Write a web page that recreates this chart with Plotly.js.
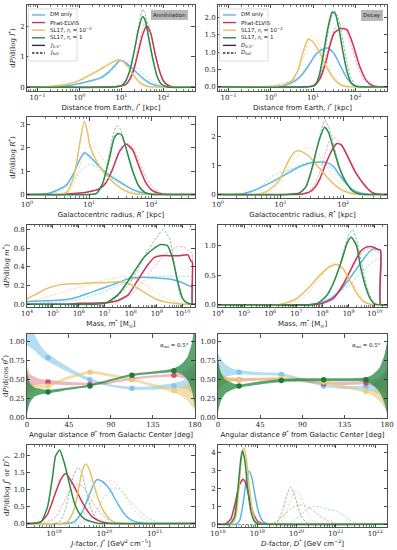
<!DOCTYPE html>
<html><head><meta charset="utf-8">
<script src="https://cdn.plot.ly/plotly-3.0.1.min.js"></script>
<style>html,body{margin:0;padding:0;background:#fff}#chart{width:397px;height:550px}</style>
</head><body><div id="chart"></div>
<script>
// ---------- DATA: [log10(x), dP/dlog x] pairs ----------
// Row 1 left: annihilation, distance from Earth (kpc)
const annDist_dmFull = [[-1.25,0],[-0.6,0.005],[-0.2,0.05],[0,0.1],[0.5,0.28],[0.75,0.5],[0.9,0.75],[1.05,0.9],[1.2,0.82],[1.4,0.6],[1.6,0.33],[1.8,0.12],[2.0,0.03],[2.2,0],[2.75,0]];
const annDist_peFull = [[-1.25,0],[0.6,0],[0.9,0.03],[1.1,0.1],[1.2,0.3],[1.3,0.7],[1.4,1.3],[1.5,1.9],[1.58,2.2],[1.68,1.9],[1.8,1.15],[1.9,0.6],[2.0,0.25],[2.1,0.08],[2.25,0],[2.75,0]];
const annDist_sl2Full = [[-1.25,0],[-0.8,0.01],[-0.3,0.08],[0,0.2],[0.25,0.36],[0.5,0.55],[0.75,0.77],[0.92,0.9],[1.05,0.85],[1.2,0.62],[1.35,0.35],[1.5,0.13],[1.7,0.02],[1.9,0],[2.75,0]];
const annDist_sl1Full = [[-1.25,0],[0.8,0],[1.0,0.04],[1.1,0.18],[1.2,0.5],[1.3,1.15],[1.4,1.95],[1.5,2.55],[1.56,2.45],[1.65,1.7],[1.75,0.9],[1.85,0.35],[1.95,0.1],[2.1,0],[2.75,0]];
const annDist_dm05 = [[-1.25,0],[-0.6,0.005],[-0.2,0.06],[0,0.12],[0.25,0.2],[0.5,0.3],[0.7,0.5],[0.85,0.72],[0.97,0.88],[1.1,0.8],[1.3,0.56],[1.5,0.3],[1.7,0.11],[1.9,0.03],[2.1,0],[2.75,0]];
const annDist_pe05 = [[-1.25,0],[0.6,0],[0.9,0.02],[1.1,0.08],[1.2,0.25],[1.3,0.6],[1.4,1.15],[1.5,1.7],[1.6,2.02],[1.7,1.75],[1.8,1.1],[1.9,0.55],[2.0,0.2],[2.1,0.06],[2.25,0],[2.75,0]];
const annDist_sl205 = [[-1.25,0],[-0.8,0.01],[-0.3,0.09],[0,0.22],[0.25,0.4],[0.5,0.59],[0.73,0.78],[0.9,0.89],[1.0,0.87],[1.17,0.64],[1.28,0.4],[1.44,0.14],[1.6,0.03],[1.8,0],[2.75,0]];
const annDist_sl105 = [[-1.25,0],[0.8,0],[1.0,0.05],[1.1,0.2],[1.2,0.55],[1.3,1.15],[1.4,1.85],[1.5,2.32],[1.56,2.22],[1.65,1.6],[1.75,0.9],[1.85,0.35],[1.95,0.1],[2.1,0],[2.75,0]];
// Row 1 right: decay, distance from Earth
const decDist_dmFull = [[-1.25,0],[-0.3,0],[0,0.03],[0.3,0.1],[0.5,0.18],[0.7,0.35],[0.9,0.65],[1.1,0.95],[1.3,1.1],[1.45,1.02],[1.6,0.72],[1.75,0.35],[1.9,0.1],[2.05,0.02],[2.2,0],[2.75,0]];
const decDist_peFull = [[-1.25,0],[0.8,0],[1.0,0.04],[1.15,0.25],[1.3,0.8],[1.45,1.5],[1.6,1.82],[1.75,1.7],[1.9,1.2],[2.05,0.6],[2.2,0.2],[2.35,0.04],[2.5,0],[2.75,0]];
const decDist_sl2Full = [[-1.25,0],[0,0],[0.3,0.05],[0.5,0.15],[0.65,0.45],[0.8,0.95],[0.95,1.48],[1.05,1.42],[1.2,1.05],[1.35,0.62],[1.5,0.28],[1.65,0.08],[1.8,0.01],[1.95,0],[2.75,0]];
const decDist_sl1Full = [[-1.25,0],[0.95,0],[1.1,0.08],[1.2,0.5],[1.3,1.2],[1.4,1.85],[1.5,2.2],[1.58,2.05],[1.68,1.5],[1.8,0.7],[1.9,0.25],[2.0,0.05],[2.1,0],[2.75,0]];
const decDist_dm05 = [[-1.25,0],[0,0],[0.3,0.03],[0.5,0.12],[0.7,0.3],[0.9,0.62],[1.05,0.92],[1.2,1.07],[1.35,1.12],[1.5,0.95],[1.65,0.6],[1.8,0.25],[1.95,0.06],[2.1,0],[2.75,0]];
const decDist_pe05 = [[-1.25,0],[0.8,0],[1.0,0.03],[1.15,0.2],[1.3,0.7],[1.4,1.2],[1.5,1.55],[1.65,1.68],[1.8,1.65],[1.95,1.2],[2.1,0.6],[2.25,0.2],[2.4,0.04],[2.55,0],[2.75,0]];
const decDist_sl205 = [[-1.25,0],[0,0],[0.3,0.05],[0.5,0.18],[0.65,0.5],[0.75,0.95],[0.88,1.37],[1.0,1.3],[1.15,1.0],[1.3,0.62],[1.45,0.3],[1.6,0.1],[1.75,0.02],[1.9,0],[2.75,0]];
const decDist_sl105 = [[-1.25,0],[0.9,0],[1.05,0.05],[1.15,0.35],[1.25,1.0],[1.35,1.7],[1.45,2.15],[1.52,2.12],[1.6,1.75],[1.7,1.05],[1.8,0.45],[1.9,0.12],[2.0,0.02],[2.1,0],[2.75,0]];
// Row 2 left: annihilation, galactocentric radius
const annRad_dmFull = [[0,0],[0.3,0.02],[0.5,0.12],[0.65,0.35],[0.8,0.8],[0.9,1.1],[1.0,1.28],[1.1,1.2],[1.2,0.95],[1.35,0.7],[1.5,0.48],[1.65,0.28],[1.8,0.12],[1.95,0.04],[2.1,0.01],[2.3,0],[2.7,0]];
const annRad_peFull = [[0,0],[0.6,0],[0.9,0.08],[1.15,0.22],[1.28,0.55],[1.4,1.3],[1.5,1.95],[1.6,2.2],[1.72,1.95],[1.82,1.3],[1.92,0.7],[2.02,0.3],[2.15,0.08],[2.3,0],[2.7,0]];
const annRad_sl2Full = [[0,0],[0.55,0],[0.68,0.15],[0.78,0.6],[0.88,1.5],[0.95,1.95],[1.02,2.1],[1.1,1.95],[1.2,1.6],[1.32,1.1],[1.45,0.6],[1.6,0.22],[1.75,0.06],[1.9,0.01],[2.05,0],[2.7,0]];
const annRad_sl1Full = [[0,0],[1.0,0],[1.12,0.05],[1.22,0.5],[1.32,1.7],[1.39,2.6],[1.44,2.92],[1.5,2.8],[1.58,2.1],[1.68,1.1],[1.78,0.4],[1.88,0.1],[2.0,0.01],[2.1,0],[2.7,0]];
const annRad_dm05 = [[0,0],[0.2,0.01],[0.35,0.05],[0.5,0.2],[0.64,0.42],[0.75,0.9],[0.85,1.5],[0.92,1.78],[1.0,1.65],[1.06,1.48],[1.15,1.22],[1.27,0.92],[1.38,0.72],[1.48,0.56],[1.6,0.36],[1.7,0.21],[1.85,0.07],[2.0,0.01],[2.2,0],[2.7,0]];
const annRad_pe05 = [[0,0],[0.5,0],[0.64,0.02],[0.96,0.1],[1.17,0.25],[1.27,0.5],[1.38,1.1],[1.48,1.8],[1.59,2.15],[1.7,1.9],[1.8,1.2],[1.9,0.55],[2.0,0.2],[2.12,0.05],[2.25,0],[2.7,0]];
const annRad_sl205 = [[0,0],[0.5,0],[0.64,0.1],[0.72,0.5],[0.78,1.1],[0.85,2.2],[0.92,3.12],[0.97,2.7],[1.01,2.1],[1.12,1.4],[1.27,0.85],[1.43,0.42],[1.59,0.14],[1.7,0.04],[1.85,0],[2.7,0]];
const annRad_sl105 = [[0,0],[1.0,0],[1.12,0.05],[1.22,0.5],[1.33,1.6],[1.4,2.4],[1.46,2.6],[1.52,2.55],[1.59,2.0],[1.7,1.0],[1.8,0.35],[1.9,0.08],[2.0,0.01],[2.1,0],[2.7,0]];
// Row 2 right: decay, galactocentric radius
const decRad_dmFull = [[0,0],[0.5,0.05],[0.7,0.3],[0.85,0.6],[0.98,0.75],[1.1,0.8],[1.25,0.95],[1.4,1.08],[1.55,1.12],[1.7,1.05],[1.85,0.85],[1.95,0.6],[2.05,0.35],[2.15,0.15],[2.3,0.04],[2.45,0],[2.7,0]];
const decRad_peFull = [[0,0],[1.2,0],[1.4,0.05],[1.5,0.2],[1.6,0.6],[1.7,1.3],[1.78,1.85],[1.85,1.95],[1.95,1.75],[2.05,1.35],[2.2,0.7],[2.35,0.25],[2.48,0.05],[2.6,0],[2.7,0]];
const decRad_sl2Full = [[0,0],[0.7,0],[0.85,0.1],[1.0,0.45],[1.12,0.9],[1.25,1.3],[1.38,1.55],[1.48,1.6],[1.58,1.45],[1.7,1.1],[1.82,0.7],[1.95,0.35],[2.1,0.1],[2.25,0.02],[2.4,0],[2.7,0]];
const decRad_sl1Full = [[0,0],[1.1,0],[1.3,0.05],[1.42,0.3],[1.5,0.85],[1.58,1.6],[1.65,2.2],[1.71,2.55],[1.77,2.3],[1.85,1.65],[1.95,0.9],[2.05,0.4],[2.15,0.12],[2.28,0.02],[2.4,0],[2.7,0]];
const decRad_dm05 = [[0,0],[0.3,0.01],[0.4,0.03],[0.55,0.12],[0.66,0.22],[0.88,0.45],[1.09,0.7],[1.3,0.95],[1.52,1.1],[1.73,1.1],[1.85,0.95],[1.94,0.67],[2.05,0.38],[2.15,0.17],[2.26,0.06],[2.4,0.01],[2.55,0],[2.7,0]];
const decRad_pe05 = [[0,0],[1.2,0],[1.35,0.02],[1.46,0.08],[1.55,0.25],[1.62,0.5],[1.73,1.1],[1.84,1.6],[1.9,1.75],[1.97,1.7],[2.05,1.4],[2.2,0.75],[2.37,0.25],[2.47,0.06],[2.6,0],[2.7,0]];
const decRad_sl205 = [[0,0],[0.6,0],[0.77,0.1],[0.9,0.3],[0.98,0.5],[1.06,0.85],[1.14,1.2],[1.22,1.45],[1.3,1.5],[1.38,1.42],[1.46,1.3],[1.54,1.1],[1.62,0.9],[1.78,0.5],[1.94,0.2],[2.1,0.05],[2.25,0],[2.7,0]];
const decRad_sl105 = [[0,0],[1.1,0],[1.3,0.05],[1.4,0.25],[1.46,0.6],[1.52,1.05],[1.57,1.5],[1.63,1.95],[1.7,2.3],[1.76,2.15],[1.84,1.6],[1.94,0.9],[2.05,0.4],[2.15,0.12],[2.26,0.02],[2.4,0],[2.7,0]];
// Row 3 left: annihilation, subhalo mass (Msun)
const annMass_dmFull = [[4,0.01],[4.5,0.015],[5,0.02],[5.5,0.03],[6,0.05],[6.5,0.09],[7,0.14],[7.5,0.2],[8,0.26],[8.5,0.29],[9,0.3],[9.5,0.3],[10,0.3],[10.3,0.3],[10.37,0.3],[10.375,0],[10.47,0]];
const annMass_peFull = [[4,0],[6,0],[7,0.01],[7.5,0.03],[8,0.1],[8.5,0.25],[8.9,0.4],[9.2,0.5],[9.5,0.57],[9.8,0.62],[10.05,0.61],[10.3,0.56],[10.37,0.55],[10.375,0],[10.47,0]];
const annMass_sl2Full = [[4,0.02],[4.5,0.06],[5,0.1],[5.5,0.14],[6,0.18],[6.5,0.22],[7,0.26],[7.5,0.29],[7.8,0.3],[8.1,0.28],[8.5,0.22],[9,0.12],[9.5,0.04],[10,0.01],[10.47,0]];
const annMass_sl1Full = [[4,0],[6.8,0],[7.35,0.05],[7.8,0.17],[8.13,0.3],[8.6,0.55],[9.0,0.72],[9.25,0.8],[9.5,0.7],[9.7,0.4],[9.9,0.1],[10.1,0.02],[10.47,0]];
const annMass_dm05 = [[4,0.03],[4.5,0.035],[5,0.04],[5.5,0.05],[6,0.08],[6.5,0.13],[7,0.18],[7.5,0.23],[8,0.28],[8.5,0.29],[9,0.28],[9.5,0.27],[10,0.23],[10.3,0.19],[10.37,0.18],[10.375,0],[10.47,0]];
const annMass_pe05 = [[4,0],[5.5,0],[6,0.01],[7,0.015],[7.5,0.04],[7.9,0.1],[8.25,0.25],[8.65,0.42],[8.9,0.5],[9.15,0.52],[9.55,0.52],[9.9,0.52],[10.2,0.53],[10.3,0.47],[10.37,0.45],[10.375,0],[10.47,0]];
const annMass_sl205 = [[4,0.06],[4.3,0.1],[4.7,0.16],[5,0.19],[5.3,0.21],[5.7,0.22],[6,0.22],[6.5,0.23],[7,0.23],[7.5,0.24],[7.8,0.23],[8.1,0.2],[8.5,0.13],[9,0.05],[9.5,0.015],[10,0],[10.47,0]];
const annMass_sl105 = [[4,0],[6.5,0],[7,0.01],[7.5,0.1],[7.9,0.25],[8.25,0.4],[8.5,0.5],[8.9,0.6],[9.15,0.64],[9.4,0.63],[9.6,0.5],[9.8,0.25],[10,0.06],[10.2,0.01],[10.47,0]];
// Row 3 right: decay, subhalo mass
const decMass_dmFull = [[4,0],[7.5,0],[8,0.04],[8.5,0.15],[9.0,0.33],[9.5,0.55],[9.9,0.72],[10.22,0.78],[10.225,0],[10.47,0]];
const decMass_peFull = [[4,0],[7.7,0],[8.2,0.05],[8.6,0.2],[9.0,0.5],[9.3,0.75],[9.55,0.9],[9.77,0.95],[10.0,0.92],[10.22,0.86],[10.225,0],[10.47,0]];
const decMass_sl2Full = [[4,0],[6.5,0],[7.0,0.05],[7.5,0.22],[7.9,0.45],[8.2,0.62],[8.45,0.7],[8.7,0.66],[9.0,0.48],[9.3,0.25],[9.55,0.08],[9.8,0.01],[10.1,0],[10.47,0]];
const decMass_sl1Full = [[4,0],[7.6,0],[7.9,0.03],[8.2,0.15],[8.5,0.45],[8.8,0.9],[9.0,1.18],[9.15,1.27],[9.3,1.1],[9.5,0.7],[9.7,0.3],[9.9,0.07],[10.05,0.01],[10.2,0],[10.47,0]];
const decMass_dm05 = [[4,0],[7.5,0],[7.8,0.01],[8.3,0.1],[8.7,0.25],[9.05,0.45],[9.45,0.7],[9.8,0.9],[10.0,0.95],[10.15,0.93],[10.22,0.92],[10.225,0],[10.47,0]];
const decMass_pe05 = [[4,0],[7.6,0],[7.9,0.01],[8.4,0.1],[8.8,0.35],[9.2,0.7],[9.45,0.9],[9.65,0.97],[9.9,0.98],[10.1,0.94],[10.22,0.92],[10.225,0],[10.47,0]];
const decMass_sl205 = [[4,0],[6.3,0],[6.6,0.03],[7.0,0.1],[7.5,0.3],[7.9,0.5],[8.3,0.65],[8.55,0.68],[8.8,0.6],[9.05,0.4],[9.3,0.2],[9.55,0.06],[9.8,0.01],[10.1,0],[10.47,0]];
const decMass_sl105 = [[4,0],[7.5,0],[7.8,0.02],[8.15,0.15],[8.4,0.35],[8.7,0.7],[8.95,1.05],[9.1,1.14],[9.3,1.0],[9.45,0.65],[9.65,0.3],[9.85,0.08],[10.0,0.01],[10.2,0],[10.47,0]];
// Row 4: angular distribution (deg) — band edges and binned points
const thetaGrid = [0,3,8,15,22.5,45,67.5,90,112.5,135,157.5,165,172,177,180];
const thetaBins = [22.5,67.5,112.5,157.5];
const annAng_dmLo = [0.95,0.93,0.88,0.8,0.74,0.6,0.48,0.41,0.37,0.37,0.39,0.39,0.37,0.33,0.3];
const annAng_dmHi = [1.5,1.3,1.1,0.94,0.84,0.66,0.52,0.44,0.41,0.42,0.46,0.48,0.52,0.58,0.62];
const annAng_peLo = [0.36,0.4,0.43,0.44,0.44,0.43,0.43,0.45,0.5,0.53,0.54,0.53,0.5,0.46,0.42];
const annAng_peHi = [0.66,0.58,0.54,0.51,0.5,0.47,0.46,0.48,0.53,0.56,0.58,0.6,0.63,0.68,0.72];
const annAng_sl2Lo = [0.28,0.32,0.36,0.38,0.4,0.51,0.58,0.54,0.48,0.41,0.33,0.29,0.23,0.15,0.1];
const annAng_sl2Hi = [0.5,0.46,0.45,0.44,0.45,0.55,0.62,0.58,0.52,0.45,0.39,0.41,0.45,0.52,0.58];
const annAng_sl1Lo = [0.05,0.2,0.28,0.31,0.32,0.37,0.41,0.48,0.55,0.58,0.6,0.58,0.5,0.35,0.12];
const annAng_sl1Hi = [0.62,0.46,0.4,0.38,0.37,0.4,0.44,0.51,0.58,0.61,0.65,0.7,0.8,1.0,1.3];
const annAng_dmPts = [0.79,0.5,0.39,0.42];
const annAng_pePts = [0.47,0.44,0.51,0.56];
const annAng_sl2Pts = [0.42,0.6,0.5,0.36];
const annAng_sl1Pts = [0.34,0.42,0.56,0.62];
const decAng_dmLo = [0.45,0.5,0.54,0.56,0.57,0.56,0.55,0.48,0.41,0.38,0.37,0.35,0.31,0.26,0.22];
const decAng_dmHi = [0.85,0.78,0.7,0.65,0.63,0.6,0.59,0.52,0.44,0.42,0.43,0.45,0.5,0.56,0.62];
const decAng_peLo = [0.36,0.42,0.46,0.48,0.48,0.49,0.49,0.47,0.44,0.43,0.44,0.42,0.38,0.33,0.28];
const decAng_peHi = [0.66,0.58,0.54,0.52,0.52,0.52,0.52,0.5,0.47,0.47,0.48,0.5,0.54,0.6,0.66];
const decAng_sl2Lo = [0.35,0.42,0.46,0.48,0.48,0.5,0.5,0.48,0.45,0.39,0.33,0.29,0.22,0.14,0.08];
const decAng_sl2Hi = [0.68,0.6,0.55,0.53,0.52,0.53,0.54,0.52,0.49,0.43,0.37,0.37,0.4,0.45,0.5];
const decAng_sl1Lo = [0.08,0.22,0.32,0.37,0.4,0.44,0.47,0.48,0.48,0.48,0.47,0.43,0.34,0.2,0.05];
const decAng_sl1Hi = [0.78,0.6,0.5,0.46,0.44,0.48,0.51,0.52,0.52,0.52,0.53,0.57,0.66,0.82,1.0];
const decAng_dmPts = [0.6,0.57,0.42,0.41];
const decAng_pePts = [0.5,0.5,0.45,0.46];
const decAng_sl2Pts = [0.5,0.52,0.47,0.35];
const decAng_sl1Pts = [0.42,0.49,0.5,0.5];
// Row 5 left: J-factor (GeV^2 cm^-5)
const annJ_dmFull = [[18.46,0],[19.5,0],[19.7,0.1],[19.85,0.4],[20.0,0.8],[20.15,1.02],[20.25,1.05],[20.38,0.9],[20.52,0.65],[20.68,0.4],[20.85,0.18],[21.0,0.06],[21.15,0.01],[21.3,0],[21.8,0]];
const annJ_peFull = [[18.46,0],[18.8,0.02],[19.0,0.15],[19.15,0.5],[19.3,0.95],[19.45,1.15],[19.55,1.12],[19.68,0.85],[19.82,0.5],[19.96,0.25],[20.1,0.1],[20.25,0.03],[20.4,0],[21.8,0]];
const annJ_sl2Full = [[18.46,0],[19.3,0],[19.5,0.1],[19.65,0.4],[19.8,0.85],[19.95,1.15],[20.08,1.28],[20.2,1.22],[20.35,0.95],[20.5,0.6],[20.65,0.3],[20.8,0.12],[20.95,0.04],[21.1,0],[21.8,0]];
const annJ_sl1Full = [[18.46,0],[18.9,0],[19.1,0.05],[19.2,0.3],[19.3,0.9],[19.38,1.4],[19.48,1.66],[19.56,1.45],[19.63,1.0],[19.72,0.5],[19.82,0.18],[19.95,0.04],[20.1,0],[21.8,0]];
const annJ_dm05 = [[18.46,0],[19.2,0],[19.4,0.05],[19.56,0.35],[19.7,0.85],[19.8,1.2],[19.86,1.3],[19.95,1.25],[20.05,1.12],[20.13,0.95],[20.26,0.6],[20.39,0.3],[20.52,0.12],[20.66,0.04],[20.8,0.01],[21,0],[21.8,0]];
const annJ_pe05 = [[18.46,0],[18.6,0.01],[18.74,0.06],[18.87,0.28],[19.0,0.8],[19.13,1.3],[19.23,1.48],[19.36,1.2],[19.5,0.8],[19.63,0.45],[19.76,0.2],[19.93,0.06],[20.06,0.02],[20.2,0],[21.8,0]];
const annJ_sl205 = [[18.46,0],[19.1,0],[19.26,0.05],[19.35,0.25],[19.43,0.6],[19.52,1.3],[19.58,1.65],[19.63,1.76],[19.7,1.6],[19.78,1.2],[19.86,0.8],[19.99,0.35],[20.13,0.1],[20.26,0.02],[20.4,0],[21.8,0]];
const annJ_sl105 = [[18.46,0],[18.6,0.01],[18.74,0.05],[18.87,0.5],[18.97,1.4],[19.03,2.0],[19.11,2.17],[19.2,1.8],[19.3,1.2],[19.4,0.62],[19.5,0.3],[19.6,0.14],[19.73,0.06],[19.86,0.01],[20,0],[21.8,0]];
// Row 5 right: D-factor (GeV cm^-2)
const decD_dmFull = [[18,0],[19.6,0],[19.85,0.1],[20.05,0.4],[20.25,0.8],[20.45,1.0],[20.65,0.95],[20.85,0.8],[21.0,0.75],[21.15,0.55],[21.3,0.3],[21.45,0.12],[21.6,0.03],[21.75,0],[22.3,0]];
const decD_peFull = [[18,0],[19.2,0],[19.45,0.1],[19.65,0.45],[19.85,0.85],[20.05,1.08],[20.2,1.05],[20.4,0.8],[20.6,0.45],[20.8,0.18],[21.0,0.05],[21.2,0.01],[21.4,0],[22.3,0]];
const decD_sl2Full = [[18,0],[19.4,0],[19.6,0.15],[19.75,0.8],[19.88,1.55],[19.98,1.88],[20.08,1.65],[20.2,1.0],[20.32,0.4],[20.45,0.1],[20.6,0.01],[20.75,0],[22.3,0]];
const decD_sl1Full = [[18,0],[19.3,0],[19.5,0.1],[19.65,0.8],[19.75,1.6],[19.84,2.05],[19.93,1.75],[20.02,1.1],[20.12,0.45],[20.25,0.1],[20.4,0.01],[20.55,0],[22.3,0]];
const decD_dm05 = [[18,0],[18.45,0],[18.55,0.2],[18.65,1.3],[18.73,2.6],[18.79,2.95],[18.86,2.6],[18.95,1.5],[19.03,0.7],[19.15,0.15],[19.28,0.02],[19.4,0],[22.3,0]];
const decD_pe05 = [[18,0],[18.2,0.03],[18.33,0.3],[18.44,1.2],[18.55,2.2],[18.64,2.5],[18.72,2.2],[18.8,1.4],[18.9,0.6],[19.0,0.2],[19.12,0.04],[19.25,0],[22.3,0]];
const decD_sl205 = [[18,0],[18.35,0.02],[18.46,0.5],[18.54,2.2],[18.61,3.9],[18.66,4.25],[18.72,3.7],[18.8,2.0],[18.88,0.7],[18.97,0.15],[19.1,0.02],[19.25,0],[22.3,0]];
const decD_sl105 = [[18,0],[18.3,0.02],[18.42,0.4],[18.5,1.8],[18.58,3.6],[18.62,4.08],[18.68,3.6],[18.76,1.9],[18.84,0.7],[18.93,0.15],[19.05,0.02],[19.2,0],[22.3,0]];

const seriesNames = ['DM only','Phat-ELVIS','SL17, <i>r</i><sub>t</sub> = 10<sup>−2</sup>','SL17, <i>r</i><sub>t</sub> = 1'];
const annStyleNames = ['<i>J</i><sub>0.5°</sub>','<i>J</i><sub>full</sub>'];
const decStyleNames = ['<i>D</i><sub>0.5°</sub>','<i>D</i><sub>full</sub>'];

// ---------- STYLE ----------
const solidColors = ['#5cb6e4','#cc3356','#e6c266','#2b8a47'];
const paleColors = ['rgba(92,182,228,0.5)','rgba(204,51,86,0.4)','rgba(230,194,102,0.55)','rgba(43,138,71,0.55)'];
const bandColors = ['rgba(92,182,228,0.45)','rgba(204,51,86,0.35)','rgba(230,194,102,0.55)','rgba(43,138,71,0.78)'];
const markerColors = ['rgba(120,195,235,0.9)','rgba(204,51,86,0.8)','rgba(235,205,125,0.95)','#1f7a3a'];

const xDom = [[0.068,0.491],[0.549,0.975]];
const yDom = [[0.8345,0.991],[0.64,0.787],[0.4418,0.591],[0.24,0.3927],[0.0418,0.191]];

const curvePanels = {
  1:[annDist_dmFull,annDist_peFull,annDist_sl2Full,annDist_sl1Full,annDist_dm05,annDist_pe05,annDist_sl205,annDist_sl105],
  2:[decDist_dmFull,decDist_peFull,decDist_sl2Full,decDist_sl1Full,decDist_dm05,decDist_pe05,decDist_sl205,decDist_sl105],
  3:[annRad_dmFull,annRad_peFull,annRad_sl2Full,annRad_sl1Full,annRad_dm05,annRad_pe05,annRad_sl205,annRad_sl105],
  4:[decRad_dmFull,decRad_peFull,decRad_sl2Full,decRad_sl1Full,decRad_dm05,decRad_pe05,decRad_sl205,decRad_sl105],
  5:[annMass_dmFull,annMass_peFull,annMass_sl2Full,annMass_sl1Full,annMass_dm05,annMass_pe05,annMass_sl205,annMass_sl105],
  6:[decMass_dmFull,decMass_peFull,decMass_sl2Full,decMass_sl1Full,decMass_dm05,decMass_pe05,decMass_sl205,decMass_sl105],
  9:[annJ_dmFull,annJ_peFull,annJ_sl2Full,annJ_sl1Full,annJ_dm05,annJ_pe05,annJ_sl205,annJ_sl105],
  10:[decD_dmFull,decD_peFull,decD_sl2Full,decD_sl1Full,decD_dm05,decD_pe05,decD_sl205,decD_sl105]
};
const angPanels = {
  7:{lo:[annAng_dmLo,annAng_peLo,annAng_sl2Lo,annAng_sl1Lo],hi:[annAng_dmHi,annAng_peHi,annAng_sl2Hi,annAng_sl1Hi],pts:[annAng_dmPts,annAng_pePts,annAng_sl2Pts,annAng_sl1Pts]},
  8:{lo:[decAng_dmLo,decAng_peLo,decAng_sl2Lo,decAng_sl1Lo],hi:[decAng_dmHi,decAng_peHi,decAng_sl2Hi,decAng_sl1Hi],pts:[decAng_dmPts,decAng_pePts,decAng_sl2Pts,decAng_sl1Pts]}
};

const axName = (k, p) => p + (k===1 ? '' : k);
const traces = [];
for (const k in curvePanels) {
  const kk = +k;
  curvePanels[k].forEach((pairs, i) => {
    const full = i < 4, c = i % 4;
    traces.push({type:'scatter', mode:'lines', xaxis:axName(kk,'x'), yaxis:axName(kk,'y'),
      x: pairs.map(p => Math.pow(10, p[0])), y: pairs.map(p => p[1]),
      line:{color: full ? paleColors[c] : solidColors[c], width: full ? 1.0 : 1.5, dash: full ? '2.5px,1.5px' : 'solid', shape:'spline', smoothing:0.55},
      hoverinfo:'skip', showlegend:false});
  });
}
for (const k in angPanels) {
  const kk = +k, P = angPanels[k];
  for (let c = 0; c < 4; c++) {
    traces.push({type:'scatter', mode:'lines', xaxis:axName(kk,'x'), yaxis:axName(kk,'y'), x:thetaGrid, y:P.lo[c],
      line:{width:0, shape:'spline', smoothing:0.6, color:bandColors[c]}, hoverinfo:'skip', showlegend:false});
    traces.push({type:'scatter', mode:'lines', xaxis:axName(kk,'x'), yaxis:axName(kk,'y'), x:thetaGrid, y:P.hi[c],
      fill:'tonexty', fillcolor:bandColors[c], line:{width:0, shape:'spline', smoothing:0.6, color:bandColors[c]}, hoverinfo:'skip', showlegend:false});
  }
  for (let c = 0; c < 4; c++) {
    traces.push({type:'scatter', mode:'markers', xaxis:axName(kk,'x'), yaxis:axName(kk,'y'), x:thetaBins, y:P.pts[c],
      marker:{size:5.5, color:markerColors[c]}, hoverinfo:'skip', showlegend:false});
  }
}

function pow10Label(n){ return '10<sup>' + (n < 0 ? '−' + (-n) : n) + '</sup>'; }
function logAxis(lo, hi, labelExps){
  const minor = [];
  for (let d = Math.floor(lo); d <= Math.ceil(hi); d++) for (let m = 2; m <= 9; m++) {
    const v = Math.log10(m) + d; if (v > lo && v < hi) minor.push(m * Math.pow(10, d));
  }
  return {type:'log', range:[lo, hi], tickmode:'array', tickvals:labelExps.map(e => Math.pow(10,e)), ticktext:labelExps.map(pow10Label),
    minor:{tickmode:'array', tickvals:minor, ticks:'inside', ticklen:2, tickwidth:0.6, tickcolor:'#222'}};
}
const base = {showline:true, linecolor:'#222', linewidth:0.8, mirror:'allticks', ticks:'inside', ticklen:3.5, tickwidth:0.8, tickcolor:'#222',
  showgrid:false, zeroline:false, automargin:false, tickfont:{family:'DejaVu Serif', size:7, color:'#222'}};
const titleFont = {family:'DejaVu Sans', size:7, color:'#222'};
const yTitleFont = {family:'DejaVu Serif', size:7, color:'#222'};

const xSpecs = {
  1: logAxis(-1.25, 2.75, [-1,0,1,2]), 2: logAxis(-1.25, 2.75, [-1,0,1,2]),
  3: logAxis(0, 2.7, [0,1,2]), 4: logAxis(0, 2.7, [0,1,2]),
  5: logAxis(4, 10.47, [4,5,6,7,8,9,10]), 6: logAxis(4, 10.47, [4,5,6,7,8,9,10]),
  7: {range:[0,180], tickvals:[0,45,90,135,180]}, 8: {range:[0,180], tickvals:[0,45,90,135,180]},
  9: logAxis(18.46, 21.8, [19,20,21]), 10: logAxis(18, 22.3, [18,19,20,21,22])
};
const xTitles = ['Distance from Earth, <i>l</i><sup>*</sup> [kpc]','Galactocentric radius, <i>R</i><sup>*</sup> [kpc]','Mass, <i>m</i><sup>*</sup> [M<sub>⊙</sub>]',
  'Angular distance <i>θ</i><sup>*</sup> from Galactic Center [deg]'];
const xTitlesRow5 = ['<i>J</i>-factor, <i>J</i><sup>*</sup> [GeV<sup>2</sup> cm<sup>−5</sup>]','<i>D</i>-factor, <i>D</i><sup>*</sup> [GeV cm<sup>−2</sup>]'];
const yTitles = ['d<i>P</i>/d(log <i>l</i><sup>*</sup>)','d<i>P</i>/d(log <i>R</i><sup>*</sup>)','d<i>P</i>/d(log <i>m</i><sup>*</sup>)','d<i>P</i>/d(cos <i>θ</i><sup>*</sup>)','d<i>P</i>/d(log <i>J</i><sup>*</sup> or <i>D</i><sup>*</sup>)'];
const ySpecs = {
  1:{range:[-0.13,2.7], tickvals:[0,1,2], tickformat:'d'}, 2:{range:[-0.12,2.36], tickvals:[0,0.5,1,1.5,2], tickformat:'.1f'},
  3:{range:[-0.15,3.3], tickvals:[0,1,2,3], tickformat:'d'}, 4:{range:[-0.12,2.65], tickvals:[0,1,2], tickformat:'d'},
  5:{range:[-0.03,0.85], tickvals:[0,0.2,0.4,0.6,0.8], tickformat:'.1f'}, 6:{range:[-0.04,1.35], tickvals:[0,0.5,1], tickformat:'.1f'},
  7:{range:[0,1.1], tickvals:[0,0.25,0.5,0.75,1], tickformat:'.2f'}, 8:{range:[0,1.1], tickvals:[0,0.25,0.5,0.75,1], tickformat:'.2f'},
  9:{range:[-0.1,2.32], tickvals:[0,0.5,1,1.5,2], tickformat:'.1f'}, 10:{range:[-0.15,4.4], tickvals:[0,1,2,3,4], tickformat:'d'}
};

const layout = {width:397, height:550, margin:{l:0,r:0,t:0,b:0}, paper_bgcolor:'#fff', plot_bgcolor:'#fff', showlegend:false,
  font:{family:'DejaVu Sans', size:7, color:'#222'}, shapes:[], annotations:[]};
for (let k = 1; k <= 10; k++) {
  const row = Math.floor((k-1)/2), col = (k-1) % 2;
  const xt = row < 4 ? xTitles[row] : xTitlesRow5[col];
  layout[axName(k,'xaxis')] = Object.assign({}, base, xSpecs[k], {domain:xDom[col], anchor:axName(k,'y'),
    title:{text:xt, font:titleFont, standoff:3}});
  const ya = Object.assign({}, base, ySpecs[k], {domain:yDom[row], anchor:axName(k,'x')});
  if (col === 0) ya.title = {text:yTitles[row], font:yTitleFont, standoff:3};
  layout[axName(k,'yaxis')] = ya;
}

// legends drawn inside panels 1 and 2
function addLegend(k, styleNames, axW, axH){
  const xr = axName(k,'x') + ' domain', yr = axName(k,'y') + ' domain';
  layout.shapes.push({type:'rect', xref:xr, yref:yr, x0:1.5/axW, x1:50/axW, y0:1-56/axH, y1:1-4/axH,
    line:{color:'#d4d4d4', width:0.8}, fillcolor:'rgba(255,255,255,0.85)', layer:'above'});
  const labels = seriesNames.concat(styleNames);
  labels.forEach((lab, i) => {
    const yy = 1 - (10 + i*7.6)/axH;
    layout.shapes.push({type:'line', xref:xr, yref:yr, x0:5/axW, x1:18/axW, y0:yy, y1:yy,
      line:{color: i < 4 ? solidColors[i] : '#333', width:1.4, dash: i === 5 ? '2.5px,1.5px' : 'solid'}, layer:'above'});
    layout.annotations.push({xref:xr, yref:yr, x:21.5/axW, y:yy, text:lab, showarrow:false, xanchor:'left', yanchor:'middle',
      font:{family:'DejaVu Sans', size:5.5, color:'#222'}});
  });
}
addLegend(1, annStyleNames, 168, 86);
addLegend(2, decStyleNames, 169, 86);

layout.annotations.push({xref:'x domain', yref:'y domain', x:0.958, y:0.94, xanchor:'right', yanchor:'top', text:'Annihilation', showarrow:false,
  bgcolor:'#b8b8b8', bordercolor:'#a8a8a8', borderwidth:0.5, borderpad:1.5, font:{family:'DejaVu Sans', size:5.5, color:'#222'}});
layout.annotations.push({xref:'x2 domain', yref:'y2 domain', x:0.975, y:0.94, xanchor:'right', yanchor:'top', text:'Decay', showarrow:false,
  bgcolor:'#b8b8b8', bordercolor:'#a8a8a8', borderwidth:0.5, borderpad:1.5, font:{family:'DejaVu Sans', size:5.5, color:'#222'}});
['x7','x8'].forEach((xa, i) => {
  layout.annotations.push({xref:xa + ' domain', yref:(i ? 'y8' : 'y7') + ' domain', x:0.975, y:0.93, xanchor:'right', yanchor:'top',
    text:'<i>α</i><sub>int</sub> = 0.5°', showarrow:false, font:{family:'DejaVu Serif', size:5.5, color:'#222'}});
});

Plotly.newPlot('chart', traces, layout, {displayModeBar:false, staticPlot:true});
</script></body></html>
